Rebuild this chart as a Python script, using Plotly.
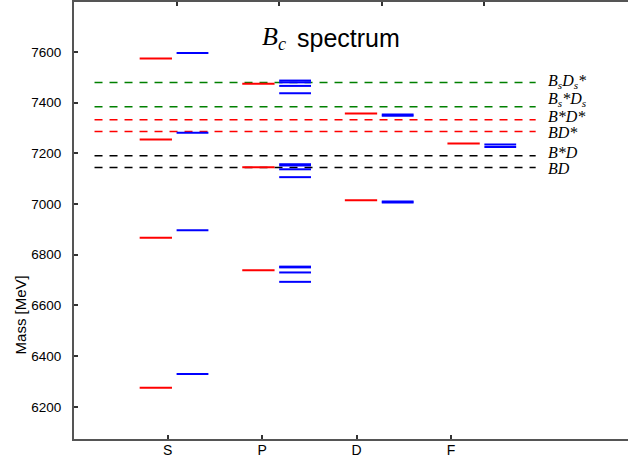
import plotly.graph_objects as go

# ---------------- data ----------------
waves = ["S", "P", "D", "F"]

# red model levels (MeV) per partial wave
red_S = [6275, 6867, 7255, 7574]
red_P = [6739, 7145, 7474]
red_D = [7015, 7357]
red_F = [7239]

# blue model levels (MeV) per partial wave
blue_S = [6329, 6897, 7281, 7596]
blue_P = [6693, 6730, 6750, 6753, 7106, 7137, 7152, 7157, 7437, 7466, 7480, 7487]
blue_D = [7006, 7010, 7348, 7353]
blue_F = [7225, 7235]

# two-meson thresholds (MeV)
thr_names = ["BD", "B*D", "BD*", "B*D*", "Bs*Ds", "BsDs*"]
thr_values = [7144, 7190, 7286, 7332, 7384, 7479]
thr_colors = ["black", "black", "red", "red", "green", "green"]
thr_labels = [
    "<i>BD</i>",
    "<i>B*D</i>",
    "<i>BD*</i>",
    "<i>B*D*</i>",
    "<i>B<sub>s</sub>*D<sub>s</sub></i>",
    "<i>B<sub>s</sub>D<sub>s</sub>*</i>",
]
label_shift = [-4, 14, -4, 14, 27, 6]   # label nudges (MeV) to avoid overlaps

y_ticks = [6200, 6400, 6600, 6800, 7000, 7200, 7400, 7600]

red_sets = [red_S, red_P, red_D, red_F]
blue_sets = [blue_S, blue_P, blue_D, blue_F]

fig = go.Figure()

def seg_trace(sets, x0off, x1off, color):
    xs, ys = [], []
    for i, lv in enumerate(sets):
        c = i + 1
        for v in lv:
            xs += [c + x0off, c + x1off, None]
            ys += [v, v, None]
    return go.Scatter(x=xs, y=ys, mode="lines", xaxis="x2", yaxis="y",
                      line=dict(color=color, width=2), hoverinfo="skip",
                      showlegend=False)

# thresholds
for v, col in zip(thr_values, thr_colors):
    fig.add_trace(go.Scatter(x=[0.2, 4.5], y=[v, v], mode="lines", xaxis="x2", yaxis="y",
                             line=dict(color=col, width=1.5, dash="8px,7px"),
                             hoverinfo="skip", showlegend=False))

fig.add_trace(seg_trace(red_sets, -0.36, -0.045, "#ff0000"))
fig.add_trace(seg_trace(blue_sets, 0.0, 0.31, "#0000ff"))

# invisible trace to anchor the bottom axis
fig.add_trace(go.Scatter(x=[1], y=[7000], mode="markers", xaxis="x", yaxis="y",
                         marker=dict(opacity=0), hoverinfo="skip", showlegend=False))

for v, s, lab in zip(thr_values, label_shift, thr_labels):
    fig.add_annotation(x=4.6, y=v + s, xref="x2", yref="y", text=lab, showarrow=False,
                       xanchor="left", yanchor="middle",
                       font=dict(family="Liberation Serif", size=16, color="black"))

# title
fig.add_annotation(x=0.386, y=0.918, xref="paper", yref="paper",
                   text="<i>B<sub>c</sub></i>", showarrow=False, xanchor="right", yanchor="middle",
                   font=dict(family="Liberation Serif", size=26, color="black"))
fig.add_annotation(x=0.399, y=0.918, xref="paper", yref="paper",
                   text="spectrum", showarrow=False, xanchor="left", yanchor="middle",
                   font=dict(family="Liberation Sans", size=25, color="black"))
# y-axis title
fig.add_annotation(x=-0.0975, y=0.285, xref="paper", yref="paper",
                   text="Mass [MeV]", showarrow=False, textangle=-90,
                   xanchor="center", yanchor="middle",
                   font=dict(family="Liberation Sans", size=15, color="black"))

axis_line = "#555555"
fig.update_layout(
    width=628, height=461,
    margin=dict(l=74, r=0, t=2, b=22),
    plot_bgcolor="white", paper_bgcolor="white",
    font=dict(family="Liberation Sans", size=13.5, color="black"),
    xaxis=dict(range=[0.008, 5.875], tickvals=[1, 2, 3, 4], ticktext=waves,
               ticks="inside", ticklen=4, tickwidth=1.5, tickcolor="#333",
               showline=True, linecolor=axis_line, linewidth=2,
               showgrid=False, zeroline=False, side="bottom",
               ticklabelstandoff=-3, tickfont=dict(size=14)),
    xaxis2=dict(range=[0, 5.4], tickvals=[1, 2, 3, 4], overlaying="x", side="top",
                ticks="inside", ticklen=4, tickwidth=1.5, tickcolor="#333",
                showticklabels=False, showline=True, linecolor=axis_line, linewidth=2,
                showgrid=False, zeroline=False),
    yaxis=dict(range=[6073, 7797], tickvals=y_ticks,
               ticks="inside", ticklen=4, tickwidth=1.5, tickcolor="#333",
               showline=True, linecolor=axis_line, linewidth=2,
               showgrid=False, zeroline=False, ticklabelstandoff=8,
               tickfont=dict(size=13.5)),
)

fig.write_html("out.html")
